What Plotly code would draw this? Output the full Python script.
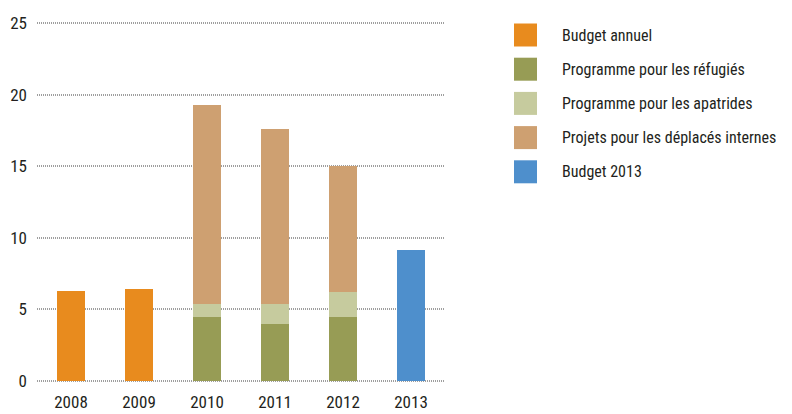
import plotly.graph_objects as go

years = ["2008", "2009", "2010", "2011", "2012", "2013"]
budget_annuel = [6.28, 6.42, None, None, None, None]
refugies = [None, None, 4.47, 3.98, 4.47, None]
apatrides = [None, None, 0.91, 1.40, 1.73, None]
deplaces = [None, None, 13.89, 12.22, 8.80, None]
budget_2013 = [None, None, None, None, None, 9.15]

series_names = ["Budget annuel", "Programme pour les réfugiés",
                "Programme pour les apatrides", "Projets pour les déplacés internes",
                "Budget 2013"]
series_values = [budget_annuel, refugies, apatrides, deplaces, budget_2013]
colors = ["#E88B1E", "#979C55", "#C6CB9E", "#CEA071", "#4E8FCC"]
y_ticks = [0, 5, 10, 15, 20, 25]

FONT = "Roboto Condensed, Liberation Sans Narrow, DejaVu Sans Condensed, sans-serif"
TXT = "#231F20"

# page body has an 8px margin, so the figure is drawn 8px right / 8px down
OFF = 8
W, H = 792 - OFF, 414 - OFF
L, R, T, B = 37 - OFF, 347, 23 - OFF - 2, 33 - 2
PW, PH = W - L - R, H - T - B


def px_x(x):  # page pixel -> paper x
    return (x - OFF - L) / PW


def px_y(y):  # page pixel -> paper y
    return (H - B - (y - OFF)) / PH


fig = go.Figure()
for name, vals, col in zip(series_names, series_values, colors):
    fig.add_trace(go.Bar(x=years, y=vals, name=name, marker=dict(color=col, line=dict(width=0)),
                         showlegend=False))

# manual legend with large square swatches
sw = 23
for i, (name, col) in enumerate(zip(series_names, colors)):
    cy = 35 + i * 34.2
    fig.add_shape(type="rect", xref="paper", yref="paper",
                  x0=px_x(514), x1=px_x(514 + sw),
                  y0=px_y(cy + sw / 2), y1=px_y(cy - sw / 2),
                  fillcolor=col, line=dict(width=0))
    fig.add_annotation(xref="paper", yref="paper", x=px_x(560), y=px_y(cy),
                       text=name, showarrow=False, xanchor="left", yanchor="middle",
                       font=dict(family=FONT, size=16, color=TXT))

fig.update_layout(
    barmode="stack",
    bargap=0.59,
    width=W, height=H,
    margin=dict(l=L, r=R, t=T, b=B, autoexpand=False),
    plot_bgcolor="white", paper_bgcolor="white",
    font=dict(family=FONT, size=17, color=TXT),
    showlegend=False,
)
fig.update_xaxes(type="category", showgrid=False, showline=False, ticks="", automargin=False,
                 ticklabelstandoff=7, tickfont=dict(size=17))
fig.update_yaxes(range=[-0.15, 25.15], tickvals=y_ticks, showgrid=True, gridcolor="#9E9E9E",
                 griddash="1px,1px", gridwidth=2, zeroline=False, showline=False, automargin=False,
                 ticks="", ticklabelstandoff=9, tickfont=dict(size=17))

fig.write_html("out.html")
